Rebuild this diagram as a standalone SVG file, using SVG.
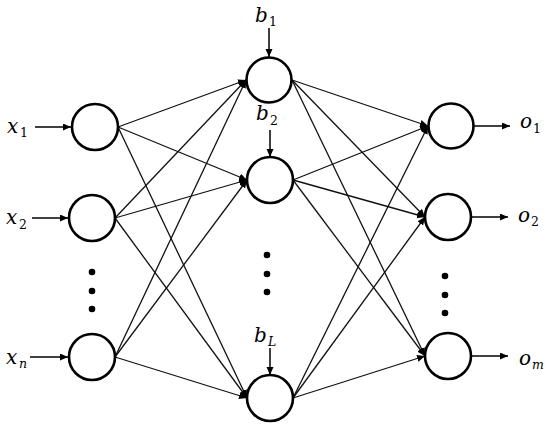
<svg xmlns="http://www.w3.org/2000/svg" width="550" height="428" viewBox="0 0 550 428">
<style>
.node{fill:#fff;stroke:#000;stroke-width:2.6}
.e{stroke:#111;stroke-width:1.3;fill:none;marker-end:url(#ah)}
.a{stroke:#000;stroke-width:1.5;fill:none;marker-end:url(#ah)}
.dot{fill:#000}
.v{font-family:"DejaVu Serif",serif;font-style:italic;font-size:20px;fill:#000}
.s{font-family:"DejaVu Serif",serif;font-size:12.5px;fill:#000}
.si{font-family:"DejaVu Serif",serif;font-style:italic;font-size:12.5px;fill:#000}
</style>
<defs>
<marker id="ah" markerUnits="userSpaceOnUse" markerWidth="9" markerHeight="8" refX="8" refY="3.5" orient="auto">
<path d="M0,0 L8,3.5 L0,7 z" fill="#000"/>
</marker>
</defs>
<rect width="550" height="428" fill="#fff"/>
<g id="connectors">
<line class="a" x1="35" y1="127" x2="71" y2="127"/>
<line class="a" x1="32" y1="218" x2="68" y2="218"/>
<line class="a" x1="30" y1="357" x2="68" y2="357"/>
<line class="a" x1="269" y1="28" x2="269" y2="57"/>
<line class="a" x1="270" y1="130" x2="270" y2="157"/>
<line class="a" x1="270" y1="348" x2="270" y2="375"/>
<line class="e" x1="118" y1="127" x2="246" y2="80"/>
<line class="e" x1="118" y1="127" x2="247" y2="180"/>
<line class="e" x1="118" y1="127" x2="247" y2="398"/>
<line class="e" x1="115" y1="218" x2="246" y2="80"/>
<line class="e" x1="115" y1="218" x2="247" y2="180"/>
<line class="e" x1="115" y1="218" x2="247" y2="398"/>
<line class="e" x1="115" y1="357" x2="246" y2="80"/>
<line class="e" x1="115" y1="357" x2="247" y2="180"/>
<line class="e" x1="115" y1="357" x2="247" y2="398"/>
<line class="e" x1="292" y1="80" x2="428" y2="126"/>
<line class="e" x1="292" y1="80" x2="425" y2="217"/>
<line class="e" x1="292" y1="80" x2="425" y2="356"/>
<line class="e" x1="293" y1="180" x2="428" y2="126"/>
<line class="e" x1="293" y1="180" x2="425" y2="217"/>
<line class="e" x1="293" y1="180" x2="425" y2="356"/>
<line class="e" x1="293" y1="398" x2="428" y2="126"/>
<line class="e" x1="293" y1="398" x2="425" y2="217"/>
<line class="e" x1="293" y1="398" x2="425" y2="356"/>
<line class="a" x1="474" y1="126" x2="510" y2="126"/>
<line class="a" x1="471" y1="217" x2="508" y2="217"/>
<line class="a" x1="471" y1="356" x2="508" y2="356"/>
</g>
<g id="x1"><circle class="node" cx="95" cy="127" r="23"/><text class="v" x="7" y="133">x</text><text class="s" x="20" y="137">1</text></g>
<g id="x2"><circle class="node" cx="92" cy="218" r="23"/><text class="v" x="6" y="224">x</text><text class="s" x="19" y="229">2</text></g>
<g id="xn"><circle class="node" cx="92" cy="357" r="23"/><text class="v" x="6" y="364">x</text><text class="si" x="19" y="368">n</text></g>
<g id="input-dots"><circle class="dot" cx="92" cy="272" r="3.3"/><circle class="dot" cx="92" cy="291" r="3.3"/><circle class="dot" cx="92" cy="309" r="3.3"/></g>
<g id="h1"><circle class="node" cx="269" cy="80" r="22.5"/><text class="v" x="255" y="22">b</text><text class="s" x="269" y="26">1</text></g>
<g id="h2"><circle class="node" cx="270" cy="180" r="23"/><text class="v" x="256" y="120">b</text><text class="s" x="270" y="125">2</text></g>
<g id="hL"><circle class="node" cx="270" cy="398" r="23"/><text class="v" x="254" y="342">b</text><text class="si" x="268" y="346">L</text></g>
<g id="hidden-dots"><circle class="dot" cx="267" cy="255" r="3.3"/><circle class="dot" cx="267" cy="274" r="3.3"/><circle class="dot" cx="267" cy="292" r="3.3"/></g>
<g id="o1"><circle class="node" cx="451" cy="126" r="22.5"/><text class="v" x="520" y="128">o</text><text class="s" x="533" y="133">1</text></g>
<g id="o2"><circle class="node" cx="448" cy="217" r="23"/><text class="v" x="518" y="222">o</text><text class="s" x="531" y="226">2</text></g>
<g id="om"><circle class="node" cx="448" cy="356" r="23"/><text class="v" x="519" y="365">o</text><text class="si" x="532" y="369">m</text></g>
<g id="output-dots"><circle class="dot" cx="445" cy="276" r="3.3"/><circle class="dot" cx="445" cy="295" r="3.3"/><circle class="dot" cx="445" cy="313" r="3.3"/></g>
</svg>
